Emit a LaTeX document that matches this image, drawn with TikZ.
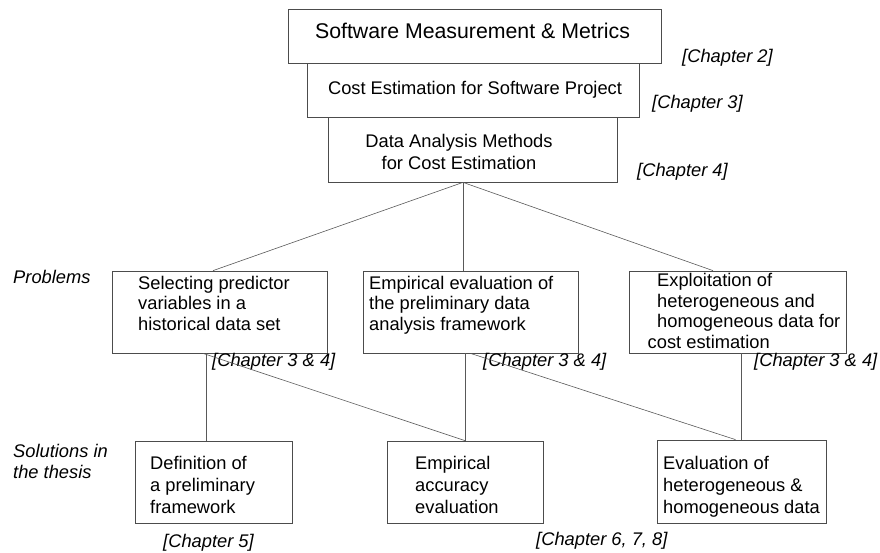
\documentclass[tikz,border=0pt]{standalone}
\usepackage{fontspec}
\setmainfont{Liberation Sans}
\usetikzlibrary{calc}

\tikzset{
  frame/.style={draw=black!70, line width=0.75pt, inner sep=0pt, rectangle},
  link/.style={draw=black!65, line width=0.6pt},
  % multi-line text: the base anchor sits on the last line
  body/.style={inner sep=0pt, align=left, anchor=base west,
               font=\fontsize{18.3}{20.5}\selectfont},
  solbody/.style={body, font=\fontsize{18.3}{21.8}\selectfont},
  chap/.style={inner sep=0pt, anchor=base west,
               font=\fontsize{18.3}{21}\selectfont\itshape},
  side/.style={chap, align=left},
}

\begin{document}
\begin{tikzpicture}[x=1pt, y=-1pt]
  \useasboundingbox (0,0) rectangle (880,553);

  % stacked header boxes
  \node[frame, minimum width=373pt, minimum height=54pt] (A) at (474.5,36) {};
  \node[frame, minimum width=332pt, minimum height=54pt] (B) at (473,90) {};
  \node[frame, minimum width=289pt, minimum height=65pt] (C) at (472.5,149.5) {};
  \node[inner sep=0pt, anchor=base, font=\fontsize{21.3}{24}\selectfont] (At) at (472.5,39) {Software Measurement \& Metrics};
  \node[inner sep=0pt, anchor=base, font=\fontsize{18.3}{21}\selectfont] (Bt) at (475,95) {Cost Estimation for Software Project};
  \node[inner sep=0pt, anchor=base, align=center, font=\fontsize{18.3}{21.5}\selectfont] (Ct) at (459,169.5) {Data Analysis Methods\\for Cost Estimation};

  \node[chap] (ch2) at (682,63) {[Chapter 2]};
  \node[chap] (ch3) at (652,109) {[Chapter 3]};
  \node[chap] (ch4) at (637,177) {[Chapter 4]};

  % problem boxes
  \node[frame, minimum width=215pt, minimum height=82pt] (P1) at (219.5,312) {};
  \node[frame, minimum width=215pt, minimum height=82pt] (P2) at (470.5,312) {};
  \node[frame, minimum width=217pt, minimum height=82pt] (P3) at (737.5,312) {};
  \node[body] (P1t) at (138,330) {Selecting predictor\\variables in a\\historical data set};
  \node[body] (P2t) at (369,330) {Empirical evaluation of\\the preliminary data\\analysis framework};
  \node[body] (P3t) at (657,348) {Exploitation of\\heterogeneous and\\homogeneous data for\\\hspace*{-9.5pt}cost estimation};

  \node[chap] (ch34a) at (212,366) {[Chapter 3 \& 4]};
  \node[chap] (ch34b) at (483,366) {[Chapter 3 \& 4]};
  \node[chap] (ch34c) at (754,366) {[Chapter 3 \& 4]};

  % solution boxes
  \node[frame, minimum width=157pt, minimum height=82pt] (S1) at (213.5,482) {};
  \node[frame, minimum width=156pt, minimum height=82pt] (S2) at (465,482) {};
  \node[frame, minimum width=169pt, minimum height=83pt] (S3) at (741.5,481.5) {};
  \node[solbody] (S1t) at (150,513) {Definition of\\a preliminary\\framework};
  \node[solbody] (S2t) at (415,513) {Empirical\\accuracy\\evaluation};
  \node[solbody] (S3t) at (663,513) {Evaluation of\\heterogeneous \&\\homogeneous data};

  \node[chap] (ch5) at (163,547) {[Chapter 5]};
  \node[chap] (ch678) at (536,545) {[Chapter 6, 7, 8]};

  % row captions
  \node[side] (prob) at (13,283) {Problems};
  \node[side] (sol) at (13,478) {Solutions in\\the thesis};

  % connectors
  \coordinate (hub) at ($(C.south)+(-9.5,0)$);
  \draw[link] (hub) -- ($(P1.north)+(-6.5,0)$);
  \draw[link] (hub) -- ($(P2.north)+(-7.5,0)$);
  \draw[link] (hub) -- ($(P3.north)+(-24.5,0)$);

  \coordinate (s1top) at ($(S1.north)+(-7.5,0)$);
  \draw[link] (s1top) -- (s1top |- P1.south);
  \draw[link] (S2.north) -- (S2.north |- P2.south);
  \draw[link] (S3.north) -- (S3.north |- P3.south);

  \draw[link] ($(P1.south)+(-16.5,0)$) -- (S2.north);
  \draw[link] (P2.south) -- ($(S3.north)+(-6,0)$);
\end{tikzpicture}
\end{document}
